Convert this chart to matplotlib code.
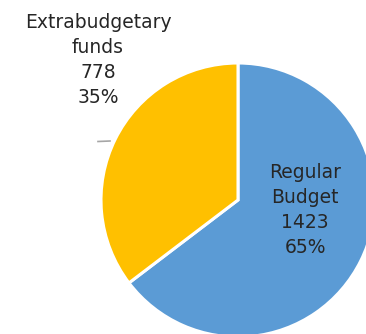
import matplotlib.pyplot as plt

names = ["Regular\nBudget", "Extrabudgetary\nfunds"]
amounts = [1423, 778]
colors = ["#5B9BD5", "#FFC000"]

W, H = 366, 334
fig = plt.figure(figsize=(W / 100, H / 100), dpi=100)
ax = fig.add_axes([0, 0, 1, 1])

# regular budget runs clockwise from 12 o'clock, the rest fills the left side
cx, cy, r = 238, 134, 137
ax.pie(amounts, colors=colors, startangle=90, counterclock=False,
       center=(cx, cy), radius=r, frame=True,
       wedgeprops=dict(edgecolor="white", linewidth=2.2))
ax.set_xlim(0, W)
ax.set_ylim(0, H)
ax.set_aspect("equal")
ax.axis("off")

total = sum(amounts)
label_pos = [(305, 124), (98, 274)]
for name, val, (x, y) in zip(names, amounts, label_pos):
    pct = round(100 * val / total)
    ax.text(x, y, f"{name}\n{val}\n{pct}%", ha="center", va="center",
            fontsize=13.5, color="#262626", linespacing=1.42)

# little leader stub next to the outside label
ax.plot([98, 110], [192.5, 193], color="#A6A6A6", lw=1.2)

fig.savefig("out.png", dpi=100)
